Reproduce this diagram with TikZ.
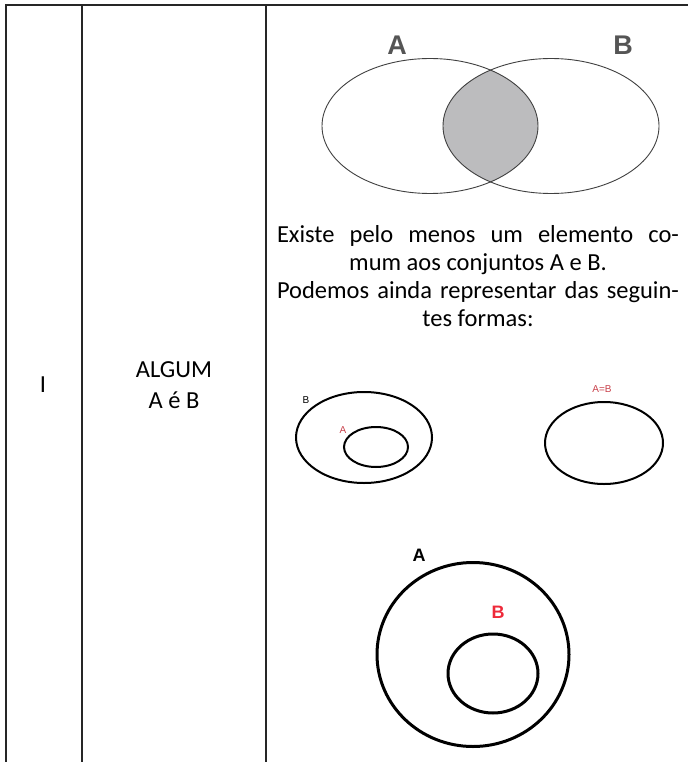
\documentclass[tikz,border=0pt]{standalone}
\usepackage{fontspec}
\setmainfont{Carlito}
\newfontfamily\vennfont{Liberation Sans}
\usepackage{tikz}
\usetikzlibrary{positioning}
\definecolor{lensgray}{RGB}{188,188,190}
\definecolor{labelgray}{RGB}{85,85,85}
\definecolor{smallred}{RGB}{200,64,74}
\definecolor{bigred}{RGB}{238,42,58}

\begin{document}
\begin{tikzpicture}[x=1pt,y=-1pt]
        \tikzstyle{every node} = [inner sep=0pt, text height=17pt, text depth=5pt, font=\fontsize{24.5}{28}\selectfont, node distance=28pt]
        \tikzstyle{rule} = [line width=2.2pt, draw=black!85]
        \tikzstyle{thin set} = [line width=0.9pt, draw=black!75]
        \tikzstyle{mid set} = [line width=2pt, draw=black]
        \tikzstyle{big set} = [line width=3pt, draw=black]
        \tikzstyle{small label} = [font=\vennfont\fontsize{10}{10}\selectfont, text height=7pt, text depth=0pt]
        \tikzstyle{big label} = [font=\vennfont\bfseries\fontsize{18}{18}\selectfont, text height=13pt, text depth=0pt]
        \useasboundingbox (0,0) rectangle (688,762);

        % table
        \draw[rule] (5,5) -- (688,5);
        \draw[rule] (6,5) -- (6,762);
        \draw[rule] (82,5) -- (82,762);
        \draw[rule] (266,5) -- (266,762);

        \node(num) at (43,386){I};
        \node(kind) at (174,371){ALGUM};
        \node[below of=kind, node distance=31pt](kindb){A é B};

        % intersection
        \begin{scope}
            \clip (430,126) ellipse [x radius=108pt, y radius=67.5pt];
            \fill[lensgray] (551,126) ellipse [x radius=108pt, y radius=67.5pt];
        \end{scope}
        \draw[thin set] (430,126) ellipse [x radius=108pt, y radius=67.5pt];
        \draw[thin set] (551,126) ellipse [x radius=108pt, y radius=67.5pt];
        \node[text=labelgray, font=\vennfont\bfseries\fontsize{27}{27}\selectfont, text height=20pt, text depth=0pt](la) at (397,45){A};
        \node[text=labelgray, font=\vennfont\bfseries\fontsize{27}{27}\selectfont, text height=20pt, text depth=0pt](lb) at (623,45){B};

        \node(t1) at (478,236){\makebox[402pt][s]{Existe pelo menos um elemento co-}};
        \node[below of=t1](t2){mum aos conjuntos A e B.};
        \node[below of=t2](t3){\makebox[402pt][s]{Podemos ainda representar das seguin-}};
        \node[below of=t3](t4){tes formas:};

        % B contains A
        \draw[mid set] (364,437.5) ellipse [x radius=68pt, y radius=45.5pt];
        \draw[mid set] (376,447) ellipse [x radius=32pt, y radius=20pt];
        \node[small label](sb) at (306,400){B};
        \node[small label, text=smallred](sa) at (343,430){A};

        % A = B
        \draw[mid set] (604,443) ellipse [x radius=59pt, y radius=41pt];
        \node[small label, text=smallred](eq) at (602,389){A=B};

        % A contains B
        \draw[big set] (473,654.5) ellipse [x radius=96pt, y radius=92pt];
        \draw[big set] (493,673.5) ellipse [x radius=45pt, y radius=39.5pt];
        \node[big label](ba) at (419,555){A};
        \node[big label, text=bigred](bb) at (498,612){B};
\end{tikzpicture}
\end{document}
